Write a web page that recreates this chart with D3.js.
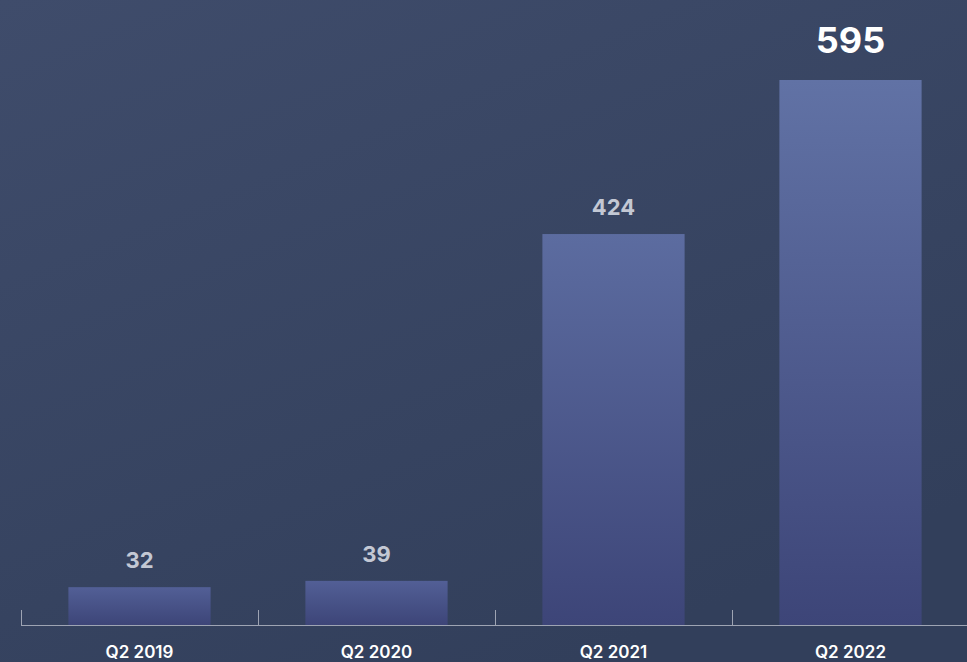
<!DOCTYPE html>
<html>
<head>
<meta charset="utf-8">
<script src="https://cdn.jsdelivr.net/npm/d3@7"></script>
<style>
  html, body { margin: 0; padding: 0; }
  body { width: 967px; height: 662px; overflow: hidden; }
  svg { display: block; }
</style>
</head>
<body>
<div id="chart"></div>
<script>
// data
const categories = ["Q2 2019", "Q2 2020", "Q2 2021", "Q2 2022"];
const values = [32, 39, 424, 595];

const W = 967, H = 662;
const baseY = 625;

const svg = d3.select("#chart")
  .append("svg")
  .attr("width", W)
  .attr("height", H);

const defs = svg.append("defs");

// background gradient
const bg = defs.append("linearGradient")
  .attr("id", "bg")
  .attr("x1", "0%").attr("y1", "0%")
  .attr("x2", "60%").attr("y2", "100%");
bg.append("stop").attr("offset", "0%").attr("stop-color", "#3f4c6b");
bg.append("stop").attr("offset", "100%").attr("stop-color", "#323f5b");

svg.append("rect")
  .attr("width", W)
  .attr("height", H)
  .attr("fill", "url(#bg)");

// scales
const x = d3.scaleBand()
  .domain(categories)
  .range([21, 969])
  .paddingInner(0.4)
  .paddingOuter(0.2);

const y = d3.scaleLinear()
  .domain([-10, 595])
  .range([baseY, 80]);

const topColor = d3.scaleLinear()
  .domain([0, d3.max(values)])
  .range(["#515e95", "#6172a5"]);

// per-bar gradients
values.forEach((v, i) => {
  const g = defs.append("linearGradient")
    .attr("id", "bar" + i)
    .attr("x1", 0).attr("y1", 0)
    .attr("x2", 0).attr("y2", 1);
  g.append("stop").attr("offset", "0%").attr("stop-color", topColor(v));
  g.append("stop").attr("offset", "100%").attr("stop-color", "#3d4578");
});

const data = categories.map((c, i) => ({ cat: c, val: values[i], i }));

svg.selectAll("rect.bar")
  .data(data)
  .enter()
  .append("rect")
  .attr("class", "bar")
  .attr("x", d => x(d.cat))
  .attr("y", d => y(d.val))
  .attr("width", x.bandwidth())
  .attr("height", d => baseY - y(d.val))
  .attr("fill", d => `url(#bar${d.i})`);

// value labels
const last = values.length - 1;
svg.selectAll("text.val")
  .data(data)
  .enter()
  .append("text")
  .attr("class", "val")
  .attr("x", d => x(d.cat) + x.bandwidth() / 2)
  .attr("y", d => y(d.val) - (d.i === last ? 27 : 19))
  .attr("text-anchor", "middle")
  .attr("font-family", "Inter, 'Open Sans', sans-serif")
  .attr("font-weight", 700)
  .attr("font-size", d => d.i === last ? 36 : 22)
  .attr("fill", d => d.i === last ? "#ffffff" : "#c3c8d4")
  .text(d => d.val);

// axis line and ticks at band boundaries
const step = x.step();
const tickXs = categories.map(c => x(c) - step * x.paddingOuter());

svg.append("line")
  .attr("x1", tickXs[0]).attr("x2", W)
  .attr("y1", baseY + 0.5).attr("y2", baseY + 0.5)
  .attr("stroke", "#9ea4b3")
  .attr("stroke-width", 1.2);

svg.selectAll("line.tick")
  .data(tickXs)
  .enter()
  .append("line")
  .attr("class", "tick")
  .attr("x1", d => Math.round(d) + 0.5)
  .attr("x2", d => Math.round(d) + 0.5)
  .attr("y1", baseY - 15)
  .attr("y2", baseY)
  .attr("stroke", "#9ea4b3")
  .attr("stroke-width", 1);

// category labels
svg.selectAll("text.cat")
  .data(data)
  .enter()
  .append("text")
  .attr("class", "cat")
  .attr("x", d => x(d.cat) + x.bandwidth() / 2)
  .attr("y", 658)
  .attr("text-anchor", "middle")
  .attr("font-family", "Inter, 'Open Sans', sans-serif")
  .attr("font-weight", 600)
  .attr("font-size", 17)
  .attr("fill", "#ffffff")
  .text(d => d.cat);
</script>
</body>
</html>
